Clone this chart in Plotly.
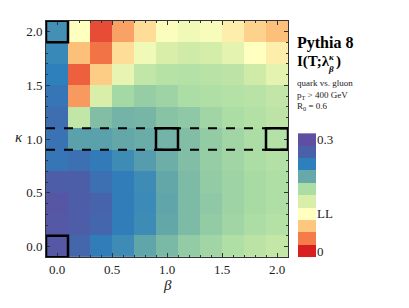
import plotly.graph_objects as go

# Grid
beta = [0.0, 0.2, 0.4, 0.6, 0.8, 1.0, 1.2, 1.4, 1.6, 1.8, 2.0]
kappa_top_down = [2.0, 1.8, 1.6, 1.4, 1.2, 1.0, 0.8, 0.6, 0.4, 0.2, 0.0]

# Colour-band position of each cell (0 = red "0", 3 = "LL", 9 = purple "0.3"), rows from kappa=2.0 down to 0.0
z_top_down = [
    [6.6, 3.0, 0.5, 1.5, 2.4, 3.1, 3.4, 3.2, 2.7, 2.2, 1.9],
    [6.8, 1.9, 0.9, 2.4, 3.4, 4.0, 4.2, 4.1, 3.7, 3.0, 2.7],
    [7.0, 0.7, 2.1, 3.6, 4.5, 4.75, 4.8, 4.7, 4.6, 4.2, 3.7],
    [7.3, 1.4, 4.0, 5.1, 5.3, 5.2, 5.0, 4.9, 4.8, 4.7, 4.5],
    [7.6, 4.5, 5.6, 5.8, 5.75, 5.5, 5.4, 5.15, 5.0, 4.85, 4.6],
    [7.4, 6.2, 6.2, 6.05, 5.95, 5.8, 5.6, 5.35, 5.15, 5.0, 4.8],
    [7.3, 7.5, 7.2, 6.7, 6.3, 5.9, 5.6, 5.3, 5.15, 5.0, 4.85],
    [8.2, 8.1, 7.5, 7.1, 6.7, 6.05, 5.65, 5.35, 5.2, 5.05, 4.9],
    [8.6, 8.2, 7.9, 7.1, 6.75, 6.1, 5.65, 5.4, 5.2, 5.05, 4.9],
    [8.5, 8.2, 7.8, 7.1, 6.7, 6.05, 5.65, 5.35, 5.15, 5.0, 4.8],
    [8.5, 7.8, 7.1, 6.7, 6.1, 5.7, 5.35, 5.15, 4.9, 4.65, 4.45],
]

band_colors = ["#d91e22", "#f47c4a", "#fdc780", "#ffffbf", "#d9efa9",
               "#abdda4", "#66a9a8", "#2d80bc", "#4a60a8", "#5e4fa2"]
band_levels = [0, 1, 2, 3, 4, 5, 6, 7, 8, 9]
bar_tickvals = [0, 3, 9]
bar_ticktext = ["0", "LL", "0.3"]

highlight_cells = [(0.0, 2.0), (0.0, 0.0), (1.0, 1.0), (2.0, 1.0)]
dashed_kappa = 1.0
cell = 0.2

kappa = kappa_top_down[::-1]
z = z_top_down[::-1]

colorscale = [[i / 9, c] for i, c in enumerate(band_colors)]

W, H = 409, 308
px_x = lambda p: p / W
px_y = lambda p: 1 - p / H

font = "Liberation Serif"

fig = go.Figure()
fig.add_trace(go.Heatmap(x=beta, y=kappa, z=z, colorscale=colorscale, zmin=0, zmax=9,
                         showscale=False, xaxis="x", yaxis="y", hoverinfo="skip"))
fig.add_trace(go.Heatmap(x=[0], y=band_levels, z=[[v] for v in band_levels],
                         colorscale=colorscale, zmin=0, zmax=9, showscale=False,
                         xaxis="x2", yaxis="y2", hoverinfo="skip"))

half = cell / 2
for b, k in highlight_cells:
    fig.add_shape(type="rect", x0=b - half, x1=b + half, y0=k - half, y1=k + half,
                  xref="x", yref="y", line=dict(color="black", width=2.5))
for yy in (dashed_kappa - half, dashed_kappa + half):
    fig.add_shape(type="line", x0=beta[0] - half, x1=beta[-1] + half, y0=yy, y1=yy,
                  xref="x", yref="y", line=dict(color="black", width=2, dash="dash"))

axis_common = dict(range=[-0.1, 2.1], showline=True, linecolor="#333", linewidth=1,
                   mirror="allticks", ticks="inside", ticklen=4, tickcolor="#333",
                   tickvals=[0, 0.5, 1.0, 1.5, 2.0], ticktext=["0.0", "0.5", "1.0", "1.5", "2.0"],
                   minor=dict(dtick=0.1, ticks="inside", ticklen=2, tickcolor="#333", tick0=0),
                   showgrid=False, zeroline=False,
                   tickfont=dict(family=font, size=13, color="#222"))

fig.update_layout(
    width=W, height=H, margin=dict(l=0, r=0, t=0, b=0),
    paper_bgcolor="white", plot_bgcolor="white", showlegend=False,
    xaxis=dict(domain=[px_x(46), px_x(288)], anchor="y", **axis_common),
    yaxis=dict(domain=[px_y(258), px_y(20)], anchor="x", **axis_common),
    xaxis2=dict(domain=[px_x(298), px_x(316)], anchor="y2", visible=False),
    yaxis2=dict(domain=[px_y(258), px_y(133)], anchor="x2", side="right",
                range=[-0.5, 9.5], tickvals=bar_tickvals, ticktext=bar_ticktext,
                showline=False, ticks="", showgrid=False, zeroline=False,
                tickfont=dict(family=font, size=13, color="#222")),
)

ann = []
ann.append(dict(text="<i>κ</i>", x=px_x(13), y=px_y(137), xref="paper", yref="paper",
                showarrow=False, font=dict(family=font, size=15, color="#222")))
ann.append(dict(text="<i>β</i>", x=px_x(167), y=px_y(296), xref="paper", yref="paper",
                showarrow=False, font=dict(family=font, size=15, color="#222")))
ann.append(dict(text="<b>Pythia 8</b>", x=px_x(295), y=px_y(31), xref="paper", yref="paper",
                xanchor="left", showarrow=False, font=dict(family=font, size=16, color="black")))
ann.append(dict(text="<b>I(T;λ</b>", x=px_x(295), y=px_y(50), xref="paper", yref="paper",
                xanchor="left", showarrow=False, font=dict(family=font, size=15, color="black")))
ann.append(dict(text="<b><i>κ</i></b><br><b><i>β</i></b>", x=px_x(326), y=px_y(49), xref="paper", yref="paper",
                xanchor="left", showarrow=False, align="left", font=dict(family=font, size=9, color="black")))
ann.append(dict(text="<b>)</b>", x=px_x(334), y=px_y(50), xref="paper", yref="paper",
                xanchor="left", showarrow=False, font=dict(family=font, size=15, color="black")))
ann.append(dict(text="quark vs. gluon<br>p<sub>T</sub> > 400 GeV<br>R<sub>0</sub> = 0.6",
                x=px_x(295), y=px_y(75), xref="paper", yref="paper", xanchor="left", yanchor="top",
                align="left", showarrow=False, font=dict(family=font, size=9, color="#222")))
fig.update_layout(annotations=ann)

fig.write_html("out.html", config={"displayModeBar": False},
               post_script="document.body.style.margin='0';document.body.style.padding='0';")
